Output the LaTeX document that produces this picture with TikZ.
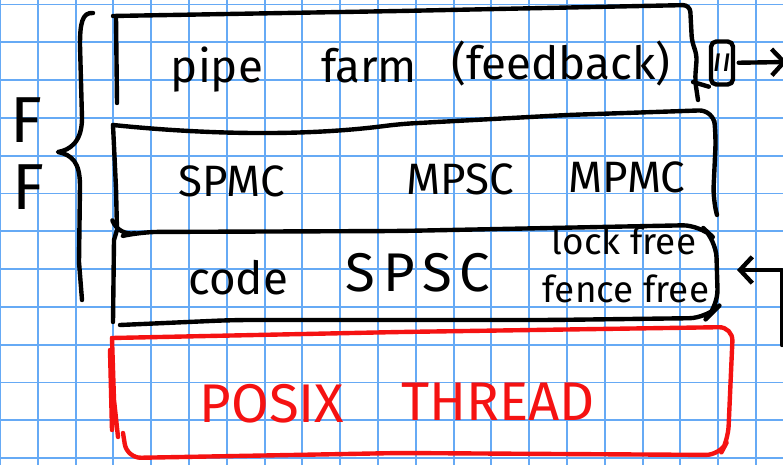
\documentclass[tikz,border=0pt]{standalone}
\usepackage{fontspec}
\setmainfont{Fira Sans}
\usetikzlibrary{arrows.meta}
\definecolor{gridblue}{RGB}{102,170,245}
\definecolor{inkred}{RGB}{245,18,18}
\tikzset{
  ink/.style={line width=2.5pt, line cap=round, line join=round, draw=black},
  redink/.style={ink, draw=inkred},
  word/.style={inner sep=0pt, anchor=base},
  inktip/.style={-{Straight Barb[length=7pt,width=15pt]}},
}
\newcommand{\hand}[1]{\fontsize{#1}{#1}\selectfont}
\begin{document}
\begin{tikzpicture}[x=0.02cm, y=-0.02cm]
        % squared paper
        \fill[white]          (0,0) rectangle (783,465);
        \useasboundingbox     (0,0) rectangle (783,465);
        \foreach \i in {0,...,20}
            \draw[gridblue, line width=1.1pt] (37.8*\i,0) -- (37.8*\i,465);
        \foreach \j in {0,...,12}
            \draw[gridblue, line width=1.1pt] (0,4.5+37.8*\j) -- (783,4.5+37.8*\j);

        % FF and its brace
        \node[word, font=\hand{37}] (ff1) at (26,143) {F};
        \node[word, font=\hand{37}] (ff2) at (28,210) {F};
        \draw[ink] (93,13) .. controls (82,12) and (80,24) .. (80,45) -- (82,118)
                   .. controls (82,142) and (70,150) .. (58,152)
                   .. controls (72,155) and (80,162) .. (80,186) -- (79,262) -- (82,300);

        % top layer
        \draw[ink] (116,17) -- (117,103);
        \draw[ink, rounded corners=4pt] (113,16) -- (400,11) -- (690,5) -- (692,43) -- (697,54) -- (695,80) -- (698,100);
        \node[ink, draw, rounded corners=3pt, minimum width=0.44cm, minimum height=0.86cm, inner sep=0pt,
              font=\hand{19}\itshape] (par) at (722,63) {ıı};
        \draw[ink] (693,82) -- (par.south west);
        \node[word, font=\hand{26}] (pipe) at (217,83) {pipe};
        \node[word, font=\hand{26}] (farm) at (369,83) {farm};
        \node[word, font=\hand{26}] (fdbk) at (561,80) {(feedback)};

        % middle layer
        \draw[ink] (113,125) -- (116,188) -- (117,230) -- (114,240) -- (113,322);
        \draw[ink, rounded corners=8pt] (113,125) .. controls (200,134) and (300,137) .. (400,124)
                   -- (567,115) -- (713,110) -- (716,135) -- (713,200) -- (717,215);
        \node[word, font=\hand{25}] (spmc) at (232,197) {SPMC};
        \node[word, font=\hand{25}] (mpsc) at (460,195) {MPSC};
        \node[word, font=\hand{25}] (mpmc) at (627,193) {MPMC};

        % bottom layer
        \draw[ink, rounded corners=10pt] (113,222) -- (118,237) -- (140,232) -- (400,231) -- (700,225)
                   -- (716,240) -- (718,307) -- (707,318) -- (550,320) -- (233,320) -- (120,325);
        \node[word, font=\hand{26}] (code) at (238,295) {code};
        \node[word, font=\hand{31}\addfontfeature{LetterSpace=15}] (spsc) at (418,292) {SPSC};
        \node[word, font=\hand{21}] (lock)  at (624,255) {lock free};
        \node[word, font=\hand{21}] (fence) at (626,303) {fence free};

        % threads underneath
        \draw[redink, rounded corners=8pt] (112,338) -- (400,332) -- (733,327) -- (728,440) -- (720,455)
                   -- (400,453) -- (127,458) -- (123,433);
        \draw[redink] (112,338) -- (114,400) -- (118,437) (110,350) -- (112,430);
        \node[word, font=\hand{31}, text=inkred] (posix)  at (272,422) {POSIX};
        \node[word, font=\hand{31}, text=inkred] (thread) at (498,420) {THREAD};

        % arrows off the page
        \coordinate (outR) at (787,62);
        \draw[ink, inktip, shorten <=2pt] (par) -- (outR);
        \coordinate (upIn)  at (782,345);
        \coordinate (inTip) at (737,270);
        \draw[ink, inktip] (upIn) |- (inTip);
\end{tikzpicture}
\end{document}
